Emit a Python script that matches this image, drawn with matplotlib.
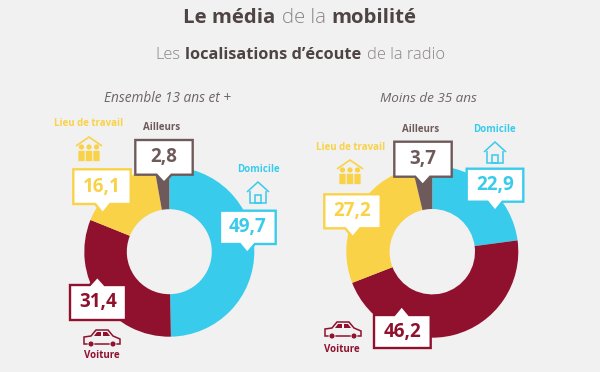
import matplotlib
matplotlib.use("Agg")
import matplotlib.pyplot as plt
from matplotlib.patches import Polygon, Rectangle, Circle, FancyBboxPatch

categories = ["Domicile", "Voiture", "Lieu de travail", "Ailleurs"]
values_all = [49.7, 31.4, 16.1, 2.8]
values_young = [22.9, 46.2, 27.2, 3.7]
title_all = "Ensemble 13 ans et +"
title_young = "Moins de 35 ans"

BG = "#f1f1f1"
CYAN = "#38cbec"
RED = "#8f112e"
YELLOW = "#f9d247"
BROWN = "#6e5a5a"
colors = [CYAN, RED, YELLOW, BROWN]
FONT = "Open Sans"

fig = plt.figure(figsize=(6, 3.72), dpi=100, facecolor=BG)
ax = fig.add_axes([0, 0, 1, 1])


def fmt(v):
    return str(v).replace(".", ",")


def mixed(parts, cx, y, size):
    # bold / light runs on one line, centred on cx
    rend = fig.canvas.get_renderer()
    items = []
    total = 0
    gap = size * 0.42
    for s, w, c in parts:
        t = ax.text(0, y, s, fontsize=size, fontweight=w, color=c, family=FONT,
                    va="center", ha="left")
        wd = t.get_window_extent(rend).width
        items.append((t, wd))
        total += wd + gap
    x = cx - (total - gap) / 2
    for t, wd in items:
        t.set_x(x)
        x += wd + gap


def donut(vals, cx, cy, r_out, r_in):
    ax.pie(vals, colors=colors, center=(cx, cy), radius=r_out, startangle=-90,
           counterclock=True, wedgeprops=dict(width=r_out - r_in, linewidth=0))


def callout(x0, x1, y0, y1, tipx, tipy, col, txt):
    # box with a little pointer, up or down depending on tip
    hw = 7.5
    if tipy > y1:
        pts = [(x0, y0), (x1, y0), (x1, y1), (tipx + hw, y1), (tipx, tipy), (tipx - hw, y1), (x0, y1)]
    else:
        pts = [(x0, y0), (tipx - hw, y0), (tipx, tipy), (tipx + hw, y0), (x1, y0), (x1, y1), (x0, y1)]
    ax.add_patch(Polygon(pts, closed=True, fc="white", ec=col, lw=1.7, joinstyle="miter", zorder=5))
    ax.text((x0 + x1) / 2, (y0 + y1) / 2, txt, color=col, fontsize=13.5, fontweight="bold",
            family=FONT, ha="center", va="center", zorder=6)


def label(x, y, txt, col):
    ax.text(x, y, txt, color=col, fontsize=7, fontweight="bold", family=FONT,
            ha="center", va="center", zorder=6)


def house(x, y, col):
    # x,y = centre of the icon
    ax.add_patch(Polygon([(x - 11, y - 1), (x, y - 11), (x + 11, y - 1)], closed=False, fc="none", ec=col, lw=1.1, zorder=6))
    ax.add_patch(Polygon([(x - 8, y - 2), (x - 8, y + 10), (x + 8, y + 10), (x + 8, y - 2)], closed=False, fc="none", ec=col, lw=1.1, zorder=6))
    ax.add_patch(Rectangle((x - 3, y + 2), 6, 8, fc="none", ec=col, lw=1.1, zorder=6))


def people(x, y, col):
    ax.add_patch(Polygon([(x - 13, y - 3), (x, y - 12), (x + 13, y - 3)], closed=False, fc="none", ec=col, lw=1.2, zorder=6))
    for dx in (-7.5, 0, 7.5):
        ax.add_patch(Circle((x + dx, y - 2), 2.6, fc=col, ec="none", zorder=6))
        ax.add_patch(FancyBboxPatch((x + dx - 2.6, y + 2.5), 5.2, 9, boxstyle="round,pad=0.8",
                                    fc=col, ec=BG, lw=0.3, zorder=6))


def car(x, y, col):
    body = [(x - 18, y + 6), (x - 18, y - 1), (x - 11, y - 2), (x - 6, y - 8), (x + 6, y - 8),
            (x + 11, y - 2), (x + 18, y + 1), (x + 18, y + 6)]
    ax.add_patch(Polygon(body, closed=True, fc="none", ec=col, lw=1.1, zorder=6))
    ax.add_patch(Polygon([(x - 8, y - 2), (x - 5, y - 6), (x - 1, y - 6), (x - 1, y - 2)], closed=True, fc=col, ec="none", zorder=6))
    ax.add_patch(Polygon([(x + 1, y - 2), (x + 1, y - 6), (x + 5, y - 6), (x + 8, y - 2)], closed=True, fc=col, ec="none", zorder=6))
    for dx in (-11, 11):
        ax.add_patch(Circle((x + dx, y + 6), 3, fc=col, ec=BG, lw=0.6, zorder=7))


donut(values_all, 169.3, 251.7, 85, 42.5)
donut(values_young, 432.3, 251.7, 86, 42.7)

ax.set_xlim(0, 600)
ax.set_ylim(372, 0)
ax.set_aspect("auto")
ax.axis("off")
fig.canvas.draw()

DARK = "#4f4444"
GREY = "#8a8484"
mixed([("Le média", "bold", DARK), ("de la", "light", GREY), ("mobilité", "bold", DARK)], 300, 18, 14.7)
mixed([("Les", "light", GREY), ("localisations d’écoute", "bold", DARK), ("de la radio", "light", GREY)], 300, 55, 11.8)

ax.text(167, 98, title_all, fontsize=9.8, style="italic", color="#6e6464", family=FONT, ha="center", va="center")
ax.text(428, 98, title_young, fontsize=9.7, style="italic", color="#6e6464", family=FONT, ha="center", va="center")

# left donut
callout(220, 275.7, 210.7, 244, 247.3, 253, CYAN, fmt(values_all[0]))
callout(70, 126, 285, 320, 97.3, 276.7, RED, fmt(values_all[1]))
callout(73.3, 130.7, 169.3, 204, 102.7, 213.3, YELLOW, fmt(values_all[2]))
callout(135.3, 192.7, 140, 174.7, 164, 182.7, BROWN, fmt(values_all[3]))
label(258, 169, categories[0], CYAN)
label(102, 355, categories[1], RED)
label(89, 124, categories[2], YELLOW)
label(161.5, 127, categories[3], BROWN)
house(258, 193, CYAN)
people(89, 149, YELLOW)
car(102, 338, RED)

# right donut
callout(466.7, 523.3, 168.7, 201.7, 495, 211, CYAN, fmt(values_young[0]))
callout(374, 430.7, 315, 348, 401.7, 306, RED, fmt(values_young[1]))
callout(324.3, 380.7, 194.3, 228.3, 352.7, 237.3, YELLOW, fmt(values_young[2]))
callout(394.3, 451.7, 141.7, 176.7, 422.7, 185, BROWN, fmt(values_young[3]))
label(494, 130, categories[0], CYAN)
label(342, 349, categories[1], RED)
label(351, 148, categories[2], YELLOW)
label(421, 130, categories[3], BROWN)
house(495, 153, CYAN)
people(350, 172, YELLOW)
car(343, 330, RED)

fig.savefig("out.png", dpi=100, facecolor=BG)
